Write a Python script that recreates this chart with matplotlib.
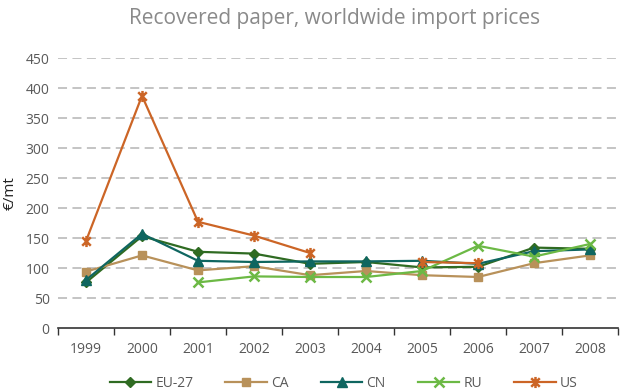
import numpy as np
import matplotlib
matplotlib.use('Agg')
from matplotlib import pyplot as plt
from matplotlib.path import Path

plt.rcParams['font.family'] = ['Open Sans', 'DejaVu Sans']

years = ['1999', '2000', '2001', '2002', '2003', '2004', '2005', '2006', '2007', '2008']
nan = np.nan
eu27 = [76, 153, 127, 124, 107, 110, 101, 102, 134, 132]
ca = [94, 121, 96, 103, 88, 95, 88, 85, 108, 121]
cn = [80, 157, 112, 110, 111, 111, 112, 107, 128, 131]
ru = [nan, nan, 76, 86, 85, 85, 95, 137, 119, 140]
us = [145, 387, 177, 154, 125, nan, 110, 108, nan, nan]

# 星形标记: x 加一条竖线
star = Path([(-1, -1), (1, 1), (-1, 1), (1, -1), (0, -1.3), (0, 1.3)],
            [Path.MOVETO, Path.LINETO, Path.MOVETO, Path.LINETO, Path.MOVETO, Path.LINETO])

series = [
    ('EU-27', eu27, '#2f6b22', 'D', 5),
    ('CA', ca, '#b8915a', 's', 6),
    ('CN', cn, '#0f6660', '^', 7),
    ('RU', ru, '#6cb945', 'x', 7),
    ('US', us, '#cc6526', star, 8),
]

fig = plt.figure(figsize=(6.2, 3.91), dpi=100)
ax = fig.add_axes([58 / 620, 63 / 391, 560 / 620, 270 / 391])

x = np.arange(len(years))
for name, vals, col, mk, ms in series:
    ax.plot(x, vals, color=col, lw=1.6, marker=mk, markersize=ms,
            markeredgewidth=1.8 if mk in ('x',) or mk is star else 1,
            markeredgecolor=col, markerfacecolor=col, label=name, zorder=3)

ax.set_xlim(-0.5, 9.5)
ax.set_ylim(0, 450)
ax.set_yticks(np.arange(0, 451, 50))
ax.set_xticks(x)
ax.set_xticklabels(years)
ax.set_xticks(np.arange(-0.5, 10, 1), minor=True)
ax.tick_params(axis='x', which='major', length=0, pad=10, labelsize=10, labelcolor='#595959')
ax.tick_params(axis='x', which='minor', length=5, width=1, color='#333333', direction='out')
ax.tick_params(axis='y', length=0, pad=6, labelsize=10, labelcolor='#595959')

for v in np.arange(50, 451, 50):
    ax.axhline(v, color='#bfbfbf', lw=1.3, ls=(0, (5, 3)), zorder=1)

for s in ['top', 'right', 'left']:
    ax.spines[s].set_visible(False)
ax.spines['bottom'].set_color('#333333')
ax.spines['bottom'].set_linewidth(1.2)

ax.set_ylabel(u'€/mt', size=11, color='#222222')
ax.yaxis.set_label_coords(-0.072, 0.5)
fig.text(0.54, 0.952, 'Recovered paper, worldwide import prices', ha='center', va='center',
         size=15, color='#8a8a8a')

ax.legend(loc='upper center', bbox_to_anchor=(0.51, -0.13), ncol=5, frameon=False,
          fontsize=10, labelcolor='#595959', handlelength=3.0, handletextpad=0.3,
          columnspacing=2.3)

fig.savefig('out.png', dpi=100)
